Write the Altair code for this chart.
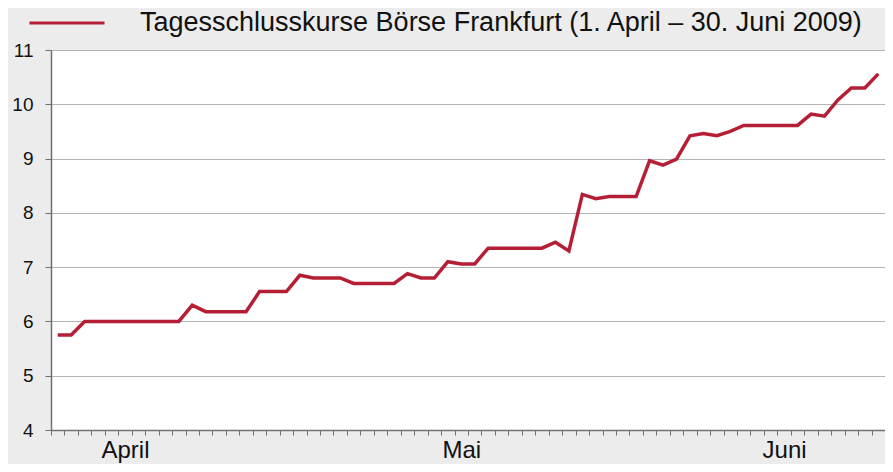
import altair as alt
import pandas as pd

# Daily closing prices, Frankfurt stock exchange, 1 April - 30 June 2009 (trading days)
kurse = [
    5.75, 5.75,
    6.00, 6.00, 6.00, 6.00, 6.00, 6.00, 6.00, 6.00,
    6.30,
    6.18, 6.18, 6.18, 6.18,
    6.55, 6.55, 6.55,
    6.85,
    6.80, 6.80, 6.80,
    6.70, 6.70, 6.70, 6.70,
    6.88,
    6.80, 6.80,
    7.10,
    7.06, 7.06,
    7.35, 7.35, 7.35, 7.35, 7.35,
    7.46,
    7.30,
    8.34,
    8.26,
    8.30, 8.30, 8.30,
    8.96,
    8.88,
    8.99,
    9.42,
    9.46,
    9.42,
    9.50,
    9.61, 9.61, 9.61, 9.61, 9.61,
    9.82,
    9.78,
    10.08,
    10.30, 10.30,
    10.56,
]
tage = list(range(len(kurse)))
serie_name = "Tagesschlusskurse Börse Frankfurt (1. April – 30. Juni 2009)"
monate = ["April", "Mai", "Juni"]
monat_pos = [5, 30, 54]
y_ticks = [4, 5, 6, 7, 8, 9, 10, 11]

N = len(kurse)
df = pd.DataFrame({"tag": tage, "kurs": kurse, "serie": [serie_name] * N})

grenzen = [i - 0.5 for i in range(N + 1)]
x_values = grenzen + monat_pos
label_expr = " : ".join(
    f"datum.value == {p} ? '{m}'" for m, p in zip(monate, monat_pos)
) + " : ''"

FONT = "Liberation Sans"
AXIS_COL = "#707070"

chart = (
    alt.Chart(df)
    .mark_line(strokeWidth=3.5)
    .encode(
        x=alt.X(
            "tag:Q",
            scale=alt.Scale(domain=[-0.5, N - 0.5], nice=False, zero=False),
            axis=alt.Axis(
                values=x_values,
                labelExpr=label_expr,
                title=None,
                grid=False,
                tickSize=5,
                tickColor=AXIS_COL,
                tickOpacity={"condition": {"test": "datum.value % 1 == 0", "value": 0}, "value": 1},
                domainColor=AXIS_COL,
                domainWidth=1.5,
                labelOverlap=False,
                labelFlush=False,
                labelBound=False,
                labelFont=FONT,
                labelFontSize=24,
                labelColor="#111111",
                labelPadding=3,
            ),
        ),
        y=alt.Y(
            "kurs:Q",
            scale=alt.Scale(domain=[4, 11], nice=False, zero=False),
            axis=alt.Axis(
                values=y_ticks,
                title=None,
                grid=True,
                gridColor="#b4b4b4",
                gridWidth=1,
                tickSize=6,
                tickColor=AXIS_COL,
                domainColor=AXIS_COL,
                domainWidth=1.5,
                labelFont=FONT,
                labelFontSize=19,
                labelColor="#111111",
                labelPadding=12,
            ),
        ),
        color=alt.Color(
            "serie:N",
            scale=alt.Scale(range=["#b51f36"]),
            legend=alt.Legend(
                title=None,
                orient="none",
                legendX=-23,
                legendY=-66,
                symbolType="stroke",
                symbolSize=5625,
                symbolStrokeWidth=3,
                labelFont=FONT,
                labelFontSize=27,
                labelColor="#111111",
                labelOffset=34,
                labelLimit=900,
            ),
        ),
    )
    .properties(
        width=834,
        height=380,
        background="#ebeceb",
        padding={"left": 43, "top": 42, "right": 0, "bottom": 34},
        autosize=alt.AutoSizeParams(type="none"),
    )
    .configure_view(fill="white", stroke=None)
)

chart.save("out.html", embed_options={"renderer": "svg", "actions": False})
